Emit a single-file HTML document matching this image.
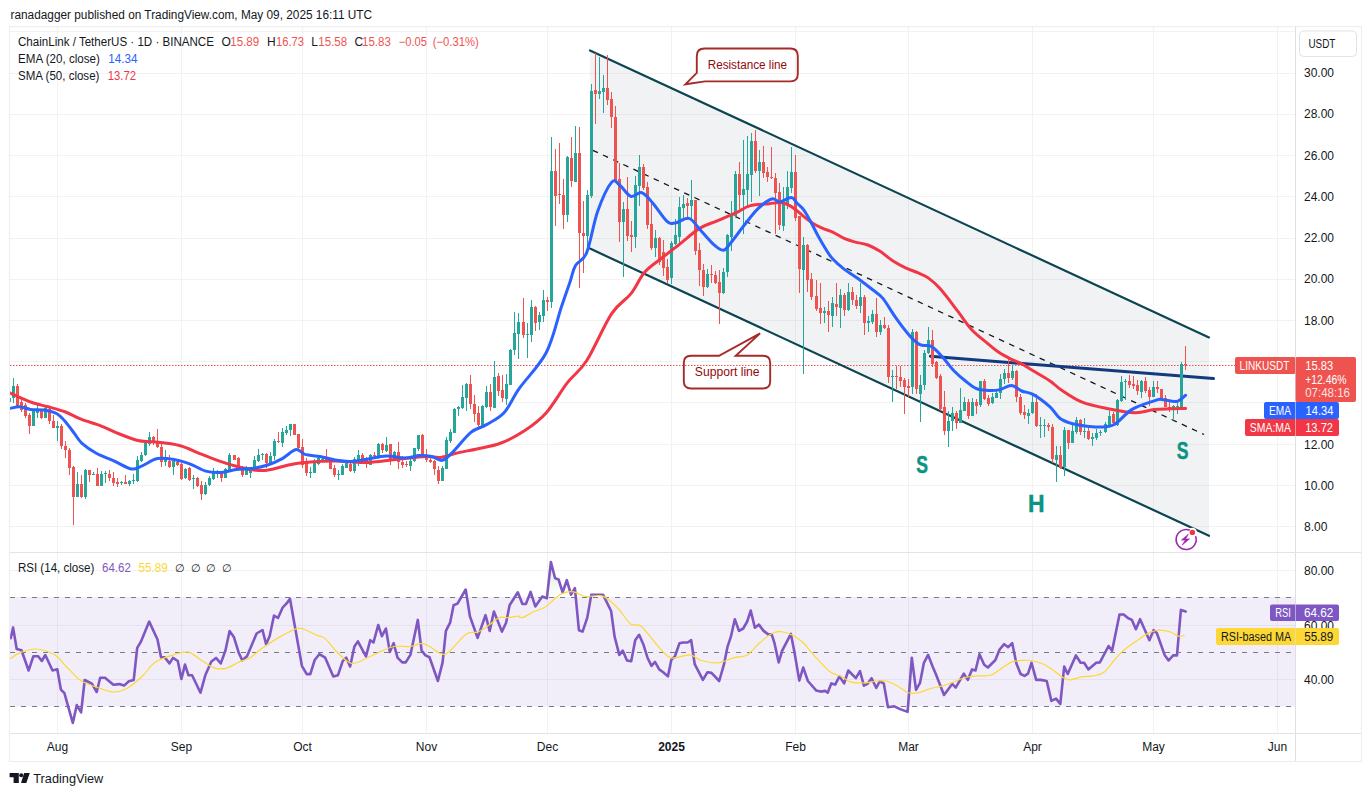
<!DOCTYPE html><html><head><meta charset="utf-8"><style>html,body{margin:0;padding:0;background:#fff;width:1371px;height:796px;overflow:hidden}</style></head><body><svg width="1371" height="796" viewBox="0 0 1371 796" style="display:block;font-family:'Liberation Sans',sans-serif"><rect width="1371" height="796" fill="#ffffff"/><g fill="#f2f2f2"><rect x="10" y="526" width="1285" height="1"/><rect x="10" y="485" width="1285" height="1"/><rect x="10" y="444" width="1285" height="1"/><rect x="10" y="402" width="1285" height="1"/><rect x="10" y="361" width="1285" height="1"/><rect x="10" y="320" width="1285" height="1"/><rect x="10" y="279" width="1285" height="1"/><rect x="10" y="238" width="1285" height="1"/><rect x="10" y="196" width="1285" height="1"/><rect x="10" y="155" width="1285" height="1"/><rect x="10" y="114" width="1285" height="1"/><rect x="10" y="73" width="1285" height="1"/><rect x="10" y="31" width="1285" height="1"/><rect x="10" y="570" width="1285" height="1"/><rect x="10" y="625" width="1285" height="1"/><rect x="10" y="679" width="1285" height="1"/><rect x="57" y="27" width="1" height="706"/><rect x="181" y="27" width="1" height="706"/><rect x="302" y="27" width="1" height="706"/><rect x="426" y="27" width="1" height="706"/><rect x="547" y="27" width="1" height="706"/><rect x="671" y="27" width="1" height="706"/><rect x="795" y="27" width="1" height="706"/><rect x="908" y="27" width="1" height="706"/><rect x="1032" y="27" width="1" height="706"/><rect x="1153" y="27" width="1" height="706"/><rect x="1277" y="27" width="1" height="706"/></g><rect x="10" y="597" width="1285" height="109.5" fill="#7e57c2" fill-opacity="0.1"/><line x1="10" y1="597.5" x2="1295" y2="597.5" stroke="#787b86" stroke-width="1" stroke-dasharray="5,6"/><line x1="10" y1="652.5" x2="1295" y2="652.5" stroke="#787b86" stroke-width="1" stroke-dasharray="5,6"/><line x1="10" y1="706.5" x2="1295" y2="706.5" stroke="#787b86" stroke-width="1" stroke-dasharray="5,6"/><polygon points="590,50.4 1209,337.4 1209,535.8 590,248.6" fill="#787b86" fill-opacity="0.1"/><line x1="10" y1="365.5" x2="1295" y2="365.5" stroke="#ef5350" stroke-width="1" stroke-dasharray="1.5,1.5"/><line x1="590" y1="50.4" x2="1209" y2="337.4" stroke="#0c4552" stroke-width="2.2" stroke-linecap="round"/><line x1="590" y1="248.6" x2="1209" y2="535.8" stroke="#0c4552" stroke-width="2.2" stroke-linecap="round"/><line x1="592.8" y1="150.3" x2="1204" y2="434.5" stroke="#131722" stroke-width="1.3" stroke-dasharray="5.6,5.6"/><line x1="930.4" y1="356.2" x2="1213.5" y2="378.6" stroke="#133a80" stroke-width="3" stroke-linecap="round"/><svg x="10" y="27" width="1285" height="525" viewBox="10 27 1285 525" overflow="hidden"><g fill="#26a69a"><rect x="9" y="397" width="1" height="6"/><rect x="8" y="398" width="3" height="4"/><rect x="13" y="378" width="1" height="25"/><rect x="12" y="386" width="3" height="12"/><rect x="33" y="410" width="1" height="16"/><rect x="32" y="411" width="3" height="15"/><rect x="37" y="405" width="1" height="13"/><rect x="36" y="410" width="3" height="3"/><rect x="45" y="405" width="1" height="13"/><rect x="44" y="408" width="3" height="10"/><rect x="57" y="421" width="1" height="20"/><rect x="56" y="426" width="3" height="2"/><rect x="77" y="472" width="1" height="25"/><rect x="76" y="484" width="3" height="13"/><rect x="85" y="469" width="1" height="30"/><rect x="84" y="470" width="3" height="27"/><rect x="93" y="472" width="1" height="3"/><rect x="92" y="474" width="3" height="1"/><rect x="101" y="471" width="1" height="15"/><rect x="100" y="474" width="3" height="12"/><rect x="105" y="471" width="1" height="12"/><rect x="104" y="473" width="3" height="1"/><rect x="121" y="481" width="1" height="4"/><rect x="120" y="482" width="3" height="1"/><rect x="129" y="480" width="1" height="6"/><rect x="128" y="481" width="3" height="3"/><rect x="133" y="474" width="1" height="10"/><rect x="132" y="480" width="3" height="1"/><rect x="137" y="456" width="1" height="26"/><rect x="136" y="460" width="3" height="21"/><rect x="141" y="452" width="1" height="10"/><rect x="140" y="455" width="3" height="6"/><rect x="145" y="440" width="1" height="16"/><rect x="144" y="443" width="3" height="12"/><rect x="149" y="432" width="1" height="14"/><rect x="148" y="437" width="3" height="7"/><rect x="165" y="450" width="1" height="16"/><rect x="164" y="458" width="3" height="4"/><rect x="173" y="460" width="1" height="15"/><rect x="172" y="461" width="3" height="6"/><rect x="185" y="468" width="1" height="11"/><rect x="184" y="469" width="3" height="9"/><rect x="193" y="475" width="1" height="14"/><rect x="192" y="478" width="3" height="1"/><rect x="205" y="482" width="1" height="13"/><rect x="204" y="485" width="3" height="9"/><rect x="209" y="476" width="1" height="10"/><rect x="208" y="478" width="3" height="7"/><rect x="213" y="468" width="1" height="12"/><rect x="212" y="472" width="3" height="7"/><rect x="217" y="470" width="1" height="8"/><rect x="216" y="473" width="3" height="1"/><rect x="225" y="468" width="1" height="10"/><rect x="224" y="469" width="3" height="9"/><rect x="229" y="453" width="1" height="19"/><rect x="228" y="455" width="3" height="16"/><rect x="246" y="466" width="1" height="9"/><rect x="245" y="470" width="3" height="5"/><rect x="250" y="467" width="1" height="11"/><rect x="249" y="467" width="3" height="6"/><rect x="254" y="456" width="1" height="12"/><rect x="253" y="460" width="3" height="8"/><rect x="258" y="449" width="1" height="13"/><rect x="257" y="455" width="3" height="6"/><rect x="262" y="453" width="1" height="7"/><rect x="261" y="454" width="3" height="1"/><rect x="270" y="452" width="1" height="13"/><rect x="269" y="456" width="3" height="7"/><rect x="274" y="439" width="1" height="21"/><rect x="273" y="441" width="3" height="15"/><rect x="282" y="428" width="1" height="19"/><rect x="281" y="432" width="3" height="11"/><rect x="286" y="426" width="1" height="9"/><rect x="285" y="430" width="3" height="3"/><rect x="290" y="424" width="1" height="12"/><rect x="289" y="424" width="3" height="6"/><rect x="310" y="467" width="1" height="11"/><rect x="309" y="472" width="3" height="1"/><rect x="314" y="459" width="1" height="14"/><rect x="313" y="463" width="3" height="10"/><rect x="318" y="457" width="1" height="8"/><rect x="317" y="458" width="3" height="6"/><rect x="322" y="456" width="1" height="5"/><rect x="321" y="459" width="3" height="1"/><rect x="338" y="470" width="1" height="10"/><rect x="337" y="474" width="3" height="1"/><rect x="342" y="464" width="1" height="11"/><rect x="341" y="466" width="3" height="9"/><rect x="346" y="461" width="1" height="7"/><rect x="345" y="463" width="3" height="5"/><rect x="354" y="457" width="1" height="16"/><rect x="353" y="459" width="3" height="12"/><rect x="358" y="450" width="1" height="16"/><rect x="357" y="455" width="3" height="5"/><rect x="370" y="454" width="1" height="11"/><rect x="369" y="455" width="3" height="10"/><rect x="378" y="443" width="1" height="16"/><rect x="377" y="444" width="3" height="13"/><rect x="386" y="437" width="1" height="15"/><rect x="385" y="445" width="3" height="6"/><rect x="394" y="451" width="1" height="9"/><rect x="393" y="452" width="3" height="7"/><rect x="410" y="459" width="1" height="12"/><rect x="409" y="461" width="3" height="5"/><rect x="414" y="448" width="1" height="14"/><rect x="413" y="448" width="3" height="13"/><rect x="418" y="435" width="1" height="16"/><rect x="417" y="435" width="3" height="14"/><rect x="442" y="466" width="1" height="15"/><rect x="441" y="468" width="3" height="13"/><rect x="446" y="437" width="1" height="32"/><rect x="445" y="440" width="3" height="29"/><rect x="450" y="429" width="1" height="14"/><rect x="449" y="432" width="3" height="9"/><rect x="454" y="408" width="1" height="25"/><rect x="453" y="409" width="3" height="24"/><rect x="458" y="406" width="1" height="10"/><rect x="457" y="407" width="3" height="2"/><rect x="462" y="385" width="1" height="24"/><rect x="461" y="397" width="3" height="11"/><rect x="466" y="383" width="1" height="28"/><rect x="465" y="384" width="3" height="14"/><rect x="482" y="405" width="1" height="23"/><rect x="481" y="406" width="3" height="19"/><rect x="486" y="386" width="1" height="22"/><rect x="485" y="392" width="3" height="15"/><rect x="494" y="361" width="1" height="47"/><rect x="493" y="377" width="3" height="31"/><rect x="506" y="374" width="1" height="31"/><rect x="505" y="384" width="3" height="15"/><rect x="510" y="349" width="1" height="36"/><rect x="509" y="350" width="3" height="35"/><rect x="514" y="312" width="1" height="43"/><rect x="513" y="333" width="3" height="17"/><rect x="518" y="313" width="1" height="46"/><rect x="517" y="322" width="3" height="12"/><rect x="527" y="323" width="1" height="35"/><rect x="526" y="334" width="3" height="1"/><rect x="531" y="300" width="1" height="42"/><rect x="530" y="307" width="3" height="28"/><rect x="539" y="312" width="1" height="18"/><rect x="538" y="315" width="3" height="7"/><rect x="543" y="290" width="1" height="32"/><rect x="542" y="300" width="3" height="16"/><rect x="551" y="137" width="1" height="171"/><rect x="550" y="171" width="3" height="131"/><rect x="567" y="156" width="1" height="66"/><rect x="566" y="157" width="3" height="58"/><rect x="575" y="126" width="1" height="56"/><rect x="574" y="153" width="3" height="29"/><rect x="587" y="190" width="1" height="63"/><rect x="586" y="195" width="3" height="41"/><rect x="591" y="84" width="1" height="114"/><rect x="590" y="91" width="3" height="105"/><rect x="599" y="57" width="1" height="42"/><rect x="598" y="91" width="3" height="3"/><rect x="603" y="75" width="1" height="38"/><rect x="602" y="88" width="3" height="4"/><rect x="623" y="202" width="1" height="75"/><rect x="622" y="209" width="3" height="13"/><rect x="635" y="176" width="1" height="72"/><rect x="634" y="185" width="3" height="52"/><rect x="639" y="155" width="1" height="51"/><rect x="638" y="167" width="3" height="19"/><rect x="655" y="230" width="1" height="27"/><rect x="654" y="238" width="3" height="10"/><rect x="671" y="241" width="1" height="43"/><rect x="670" y="243" width="3" height="35"/><rect x="675" y="219" width="1" height="26"/><rect x="674" y="235" width="3" height="9"/><rect x="679" y="197" width="1" height="48"/><rect x="678" y="207" width="3" height="30"/><rect x="683" y="195" width="1" height="26"/><rect x="682" y="204" width="3" height="4"/><rect x="691" y="180" width="1" height="39"/><rect x="690" y="200" width="3" height="6"/><rect x="707" y="269" width="1" height="19"/><rect x="706" y="274" width="3" height="13"/><rect x="723" y="268" width="1" height="26"/><rect x="722" y="272" width="3" height="21"/><rect x="727" y="234" width="1" height="43"/><rect x="726" y="235" width="3" height="37"/><rect x="731" y="201" width="1" height="50"/><rect x="730" y="216" width="3" height="21"/><rect x="735" y="171" width="1" height="46"/><rect x="734" y="174" width="3" height="42"/><rect x="743" y="140" width="1" height="94"/><rect x="742" y="189" width="3" height="6"/><rect x="747" y="136" width="1" height="72"/><rect x="746" y="174" width="3" height="16"/><rect x="751" y="133" width="1" height="69"/><rect x="750" y="141" width="3" height="34"/><rect x="759" y="150" width="1" height="46"/><rect x="758" y="162" width="3" height="9"/><rect x="783" y="187" width="1" height="44"/><rect x="782" y="202" width="3" height="24"/><rect x="787" y="171" width="1" height="38"/><rect x="786" y="187" width="3" height="17"/><rect x="791" y="147" width="1" height="46"/><rect x="790" y="172" width="3" height="16"/><rect x="803" y="237" width="1" height="137"/><rect x="802" y="245" width="3" height="25"/><rect x="824" y="307" width="1" height="16"/><rect x="823" y="311" width="3" height="2"/><rect x="832" y="297" width="1" height="30"/><rect x="831" y="303" width="3" height="13"/><rect x="840" y="289" width="1" height="39"/><rect x="839" y="295" width="3" height="13"/><rect x="848" y="283" width="1" height="28"/><rect x="847" y="292" width="3" height="18"/><rect x="860" y="283" width="1" height="30"/><rect x="859" y="297" width="3" height="9"/><rect x="868" y="316" width="1" height="16"/><rect x="867" y="321" width="3" height="2"/><rect x="872" y="310" width="1" height="14"/><rect x="871" y="314" width="3" height="8"/><rect x="880" y="320" width="1" height="15"/><rect x="879" y="325" width="3" height="7"/><rect x="892" y="370" width="1" height="32"/><rect x="891" y="376" width="3" height="1"/><rect x="912" y="329" width="1" height="65"/><rect x="911" y="332" width="3" height="55"/><rect x="920" y="375" width="1" height="47"/><rect x="919" y="385" width="3" height="9"/><rect x="924" y="350" width="1" height="40"/><rect x="923" y="353" width="3" height="32"/><rect x="928" y="327" width="1" height="27"/><rect x="927" y="340" width="3" height="13"/><rect x="948" y="411" width="1" height="36"/><rect x="947" y="421" width="3" height="10"/><rect x="952" y="407" width="1" height="24"/><rect x="951" y="413" width="3" height="8"/><rect x="960" y="388" width="1" height="35"/><rect x="959" y="410" width="3" height="13"/><rect x="964" y="397" width="1" height="14"/><rect x="963" y="402" width="3" height="9"/><rect x="972" y="398" width="1" height="18"/><rect x="971" y="402" width="3" height="14"/><rect x="980" y="381" width="1" height="26"/><rect x="979" y="381" width="3" height="24"/><rect x="992" y="393" width="1" height="11"/><rect x="991" y="397" width="3" height="6"/><rect x="996" y="390" width="1" height="8"/><rect x="995" y="393" width="3" height="5"/><rect x="1000" y="374" width="1" height="25"/><rect x="999" y="379" width="3" height="14"/><rect x="1004" y="369" width="1" height="15"/><rect x="1003" y="373" width="3" height="6"/><rect x="1012" y="365" width="1" height="15"/><rect x="1011" y="371" width="3" height="7"/><rect x="1028" y="409" width="1" height="15"/><rect x="1027" y="413" width="3" height="3"/><rect x="1032" y="395" width="1" height="19"/><rect x="1031" y="402" width="3" height="11"/><rect x="1040" y="417" width="1" height="21"/><rect x="1039" y="425" width="3" height="1"/><rect x="1044" y="419" width="1" height="18"/><rect x="1043" y="425" width="3" height="1"/><rect x="1056" y="446" width="1" height="36"/><rect x="1055" y="455" width="3" height="5"/><rect x="1064" y="427" width="1" height="49"/><rect x="1063" y="430" width="3" height="37"/><rect x="1072" y="425" width="1" height="18"/><rect x="1071" y="431" width="3" height="12"/><rect x="1076" y="417" width="1" height="17"/><rect x="1075" y="420" width="3" height="12"/><rect x="1084" y="418" width="1" height="20"/><rect x="1083" y="431" width="3" height="1"/><rect x="1092" y="433" width="1" height="13"/><rect x="1091" y="437" width="3" height="2"/><rect x="1096" y="429" width="1" height="11"/><rect x="1095" y="433" width="3" height="5"/><rect x="1100" y="430" width="1" height="6"/><rect x="1099" y="432" width="3" height="1"/><rect x="1105" y="422" width="1" height="11"/><rect x="1104" y="424" width="3" height="8"/><rect x="1109" y="411" width="1" height="15"/><rect x="1108" y="416" width="3" height="10"/><rect x="1117" y="399" width="1" height="27"/><rect x="1116" y="400" width="3" height="25"/><rect x="1121" y="376" width="1" height="26"/><rect x="1120" y="382" width="3" height="19"/><rect x="1125" y="379" width="1" height="21"/><rect x="1124" y="381" width="3" height="1"/><rect x="1141" y="380" width="1" height="18"/><rect x="1140" y="381" width="3" height="11"/><rect x="1153" y="381" width="1" height="16"/><rect x="1152" y="387" width="3" height="10"/><rect x="1173" y="405" width="1" height="14"/><rect x="1172" y="406" width="3" height="4"/><rect x="1177" y="401" width="1" height="13"/><rect x="1176" y="406" width="3" height="1"/><rect x="1181" y="362" width="1" height="46"/><rect x="1180" y="364" width="3" height="44"/></g><g fill="#ef5350"><rect x="17" y="384" width="1" height="23"/><rect x="16" y="386" width="3" height="20"/><rect x="21" y="398" width="1" height="14"/><rect x="20" y="402" width="3" height="8"/><rect x="25" y="403" width="1" height="15"/><rect x="24" y="405" width="3" height="11"/><rect x="29" y="413" width="1" height="21"/><rect x="28" y="415" width="3" height="11"/><rect x="41" y="409" width="1" height="10"/><rect x="40" y="410" width="3" height="8"/><rect x="49" y="407" width="1" height="17"/><rect x="48" y="409" width="3" height="12"/><rect x="53" y="415" width="1" height="13"/><rect x="52" y="421" width="3" height="7"/><rect x="61" y="424" width="1" height="25"/><rect x="60" y="426" width="3" height="20"/><rect x="65" y="441" width="1" height="17"/><rect x="64" y="446" width="3" height="4"/><rect x="69" y="448" width="1" height="27"/><rect x="68" y="450" width="3" height="18"/><rect x="73" y="466" width="1" height="59"/><rect x="72" y="467" width="3" height="30"/><rect x="81" y="475" width="1" height="23"/><rect x="80" y="484" width="3" height="13"/><rect x="89" y="470" width="1" height="12"/><rect x="88" y="470" width="3" height="5"/><rect x="97" y="468" width="1" height="18"/><rect x="96" y="474" width="3" height="12"/><rect x="109" y="470" width="1" height="11"/><rect x="108" y="474" width="3" height="4"/><rect x="113" y="472" width="1" height="14"/><rect x="112" y="478" width="3" height="5"/><rect x="117" y="478" width="1" height="9"/><rect x="116" y="482" width="3" height="2"/><rect x="125" y="475" width="1" height="9"/><rect x="124" y="482" width="3" height="2"/><rect x="153" y="436" width="1" height="9"/><rect x="152" y="437" width="3" height="6"/><rect x="157" y="429" width="1" height="19"/><rect x="156" y="441" width="3" height="6"/><rect x="161" y="444" width="1" height="23"/><rect x="160" y="447" width="3" height="15"/><rect x="169" y="455" width="1" height="13"/><rect x="168" y="461" width="3" height="6"/><rect x="177" y="460" width="1" height="6"/><rect x="176" y="462" width="3" height="3"/><rect x="181" y="463" width="1" height="17"/><rect x="180" y="464" width="3" height="15"/><rect x="189" y="467" width="1" height="14"/><rect x="188" y="468" width="3" height="12"/><rect x="197" y="477" width="1" height="10"/><rect x="196" y="478" width="3" height="8"/><rect x="201" y="481" width="1" height="19"/><rect x="200" y="485" width="3" height="9"/><rect x="221" y="473" width="1" height="9"/><rect x="220" y="473" width="3" height="5"/><rect x="234" y="455" width="1" height="5"/><rect x="233" y="455" width="3" height="5"/><rect x="238" y="457" width="1" height="12"/><rect x="237" y="458" width="3" height="10"/><rect x="242" y="466" width="1" height="11"/><rect x="241" y="468" width="3" height="7"/><rect x="266" y="453" width="1" height="15"/><rect x="265" y="454" width="3" height="9"/><rect x="278" y="432" width="1" height="11"/><rect x="277" y="441" width="3" height="1"/><rect x="294" y="424" width="1" height="11"/><rect x="293" y="424" width="3" height="11"/><rect x="298" y="434" width="1" height="15"/><rect x="297" y="434" width="3" height="14"/><rect x="302" y="439" width="1" height="29"/><rect x="301" y="447" width="3" height="18"/><rect x="306" y="458" width="1" height="18"/><rect x="305" y="463" width="3" height="10"/><rect x="326" y="449" width="1" height="13"/><rect x="325" y="459" width="3" height="2"/><rect x="330" y="459" width="1" height="10"/><rect x="329" y="460" width="3" height="9"/><rect x="334" y="465" width="1" height="12"/><rect x="333" y="468" width="3" height="7"/><rect x="350" y="463" width="1" height="9"/><rect x="349" y="464" width="3" height="7"/><rect x="362" y="453" width="1" height="10"/><rect x="361" y="455" width="3" height="7"/><rect x="366" y="457" width="1" height="11"/><rect x="365" y="459" width="3" height="5"/><rect x="374" y="452" width="1" height="7"/><rect x="373" y="455" width="3" height="1"/><rect x="382" y="443" width="1" height="10"/><rect x="381" y="444" width="3" height="6"/><rect x="390" y="444" width="1" height="21"/><rect x="389" y="444" width="3" height="15"/><rect x="398" y="442" width="1" height="27"/><rect x="397" y="452" width="3" height="10"/><rect x="402" y="456" width="1" height="12"/><rect x="401" y="462" width="3" height="3"/><rect x="406" y="461" width="1" height="6"/><rect x="405" y="464" width="3" height="1"/><rect x="422" y="434" width="1" height="24"/><rect x="421" y="435" width="3" height="23"/><rect x="426" y="449" width="1" height="13"/><rect x="425" y="456" width="3" height="4"/><rect x="430" y="456" width="1" height="7"/><rect x="429" y="460" width="3" height="2"/><rect x="434" y="460" width="1" height="15"/><rect x="433" y="461" width="3" height="8"/><rect x="438" y="466" width="1" height="18"/><rect x="437" y="470" width="3" height="11"/><rect x="470" y="375" width="1" height="34"/><rect x="469" y="384" width="3" height="20"/><rect x="474" y="395" width="1" height="27"/><rect x="473" y="404" width="3" height="10"/><rect x="478" y="406" width="1" height="21"/><rect x="477" y="413" width="3" height="12"/><rect x="490" y="384" width="1" height="27"/><rect x="489" y="392" width="3" height="15"/><rect x="498" y="373" width="1" height="23"/><rect x="497" y="376" width="3" height="15"/><rect x="502" y="375" width="1" height="27"/><rect x="501" y="390" width="3" height="8"/><rect x="523" y="298" width="1" height="40"/><rect x="522" y="322" width="3" height="13"/><rect x="535" y="306" width="1" height="25"/><rect x="534" y="307" width="3" height="16"/><rect x="547" y="297" width="1" height="14"/><rect x="546" y="300" width="3" height="2"/><rect x="555" y="149" width="1" height="77"/><rect x="554" y="171" width="3" height="25"/><rect x="559" y="143" width="1" height="61"/><rect x="558" y="194" width="3" height="1"/><rect x="563" y="179" width="1" height="50"/><rect x="562" y="195" width="3" height="20"/><rect x="571" y="137" width="1" height="50"/><rect x="570" y="158" width="3" height="23"/><rect x="579" y="127" width="1" height="161"/><rect x="578" y="153" width="3" height="80"/><rect x="583" y="201" width="1" height="72"/><rect x="582" y="233" width="3" height="3"/><rect x="595" y="53" width="1" height="71"/><rect x="594" y="90" width="3" height="4"/><rect x="607" y="55" width="1" height="50"/><rect x="606" y="88" width="3" height="12"/><rect x="611" y="92" width="1" height="36"/><rect x="610" y="99" width="3" height="18"/><rect x="615" y="106" width="1" height="74"/><rect x="614" y="117" width="3" height="63"/><rect x="619" y="163" width="1" height="79"/><rect x="618" y="179" width="3" height="43"/><rect x="627" y="177" width="1" height="64"/><rect x="626" y="209" width="3" height="27"/><rect x="631" y="221" width="1" height="31"/><rect x="630" y="235" width="3" height="2"/><rect x="643" y="164" width="1" height="26"/><rect x="642" y="167" width="3" height="21"/><rect x="647" y="182" width="1" height="47"/><rect x="646" y="187" width="3" height="38"/><rect x="651" y="203" width="1" height="47"/><rect x="650" y="224" width="3" height="24"/><rect x="659" y="237" width="1" height="28"/><rect x="658" y="238" width="3" height="24"/><rect x="663" y="240" width="1" height="36"/><rect x="662" y="252" width="3" height="16"/><rect x="667" y="259" width="1" height="24"/><rect x="666" y="267" width="3" height="13"/><rect x="687" y="198" width="1" height="21"/><rect x="686" y="203" width="3" height="3"/><rect x="695" y="200" width="1" height="55"/><rect x="694" y="200" width="3" height="51"/><rect x="699" y="243" width="1" height="43"/><rect x="698" y="250" width="3" height="20"/><rect x="703" y="264" width="1" height="32"/><rect x="702" y="270" width="3" height="17"/><rect x="711" y="265" width="1" height="18"/><rect x="710" y="274" width="3" height="1"/><rect x="715" y="271" width="1" height="13"/><rect x="714" y="275" width="3" height="8"/><rect x="719" y="270" width="1" height="54"/><rect x="718" y="282" width="3" height="11"/><rect x="739" y="162" width="1" height="47"/><rect x="738" y="174" width="3" height="21"/><rect x="755" y="130" width="1" height="43"/><rect x="754" y="141" width="3" height="30"/><rect x="763" y="146" width="1" height="32"/><rect x="762" y="162" width="3" height="11"/><rect x="767" y="167" width="1" height="15"/><rect x="766" y="172" width="3" height="5"/><rect x="771" y="147" width="1" height="32"/><rect x="770" y="177" width="3" height="1"/><rect x="775" y="173" width="1" height="61"/><rect x="774" y="178" width="3" height="15"/><rect x="779" y="183" width="1" height="47"/><rect x="778" y="192" width="3" height="33"/><rect x="795" y="155" width="1" height="66"/><rect x="794" y="172" width="3" height="46"/><rect x="799" y="216" width="1" height="77"/><rect x="798" y="216" width="3" height="53"/><rect x="807" y="244" width="1" height="48"/><rect x="806" y="245" width="3" height="35"/><rect x="811" y="273" width="1" height="27"/><rect x="810" y="279" width="3" height="18"/><rect x="816" y="280" width="1" height="31"/><rect x="815" y="296" width="3" height="13"/><rect x="820" y="283" width="1" height="41"/><rect x="819" y="308" width="3" height="5"/><rect x="828" y="301" width="1" height="31"/><rect x="827" y="311" width="3" height="4"/><rect x="836" y="283" width="1" height="33"/><rect x="835" y="304" width="3" height="3"/><rect x="844" y="293" width="1" height="23"/><rect x="843" y="295" width="3" height="15"/><rect x="852" y="287" width="1" height="18"/><rect x="851" y="292" width="3" height="8"/><rect x="856" y="295" width="1" height="14"/><rect x="855" y="300" width="3" height="6"/><rect x="864" y="295" width="1" height="40"/><rect x="863" y="297" width="3" height="26"/><rect x="876" y="298" width="1" height="39"/><rect x="875" y="314" width="3" height="18"/><rect x="884" y="317" width="1" height="12"/><rect x="883" y="325" width="3" height="3"/><rect x="888" y="325" width="1" height="58"/><rect x="887" y="328" width="3" height="49"/><rect x="896" y="366" width="1" height="23"/><rect x="895" y="376" width="3" height="1"/><rect x="900" y="366" width="1" height="21"/><rect x="899" y="377" width="3" height="4"/><rect x="904" y="378" width="1" height="36"/><rect x="903" y="380" width="3" height="7"/><rect x="908" y="379" width="1" height="19"/><rect x="907" y="386" width="3" height="2"/><rect x="916" y="331" width="1" height="63"/><rect x="915" y="332" width="3" height="57"/><rect x="932" y="330" width="1" height="37"/><rect x="931" y="340" width="3" height="24"/><rect x="936" y="361" width="1" height="18"/><rect x="935" y="362" width="3" height="16"/><rect x="940" y="374" width="1" height="37"/><rect x="939" y="376" width="3" height="33"/><rect x="944" y="391" width="1" height="44"/><rect x="943" y="407" width="3" height="24"/><rect x="956" y="411" width="1" height="18"/><rect x="955" y="413" width="3" height="10"/><rect x="968" y="399" width="1" height="20"/><rect x="967" y="402" width="3" height="14"/><rect x="976" y="399" width="1" height="15"/><rect x="975" y="402" width="3" height="4"/><rect x="984" y="379" width="1" height="21"/><rect x="983" y="381" width="3" height="18"/><rect x="988" y="395" width="1" height="11"/><rect x="987" y="398" width="3" height="6"/><rect x="1008" y="359" width="1" height="24"/><rect x="1007" y="373" width="3" height="5"/><rect x="1016" y="370" width="1" height="32"/><rect x="1015" y="371" width="3" height="26"/><rect x="1020" y="394" width="1" height="21"/><rect x="1019" y="397" width="3" height="16"/><rect x="1024" y="405" width="1" height="14"/><rect x="1023" y="412" width="3" height="3"/><rect x="1036" y="394" width="1" height="33"/><rect x="1035" y="402" width="3" height="24"/><rect x="1048" y="423" width="1" height="8"/><rect x="1047" y="425" width="3" height="2"/><rect x="1052" y="424" width="1" height="39"/><rect x="1051" y="427" width="3" height="32"/><rect x="1060" y="446" width="1" height="23"/><rect x="1059" y="455" width="3" height="13"/><rect x="1068" y="430" width="1" height="19"/><rect x="1067" y="430" width="3" height="13"/><rect x="1080" y="419" width="1" height="16"/><rect x="1079" y="420" width="3" height="12"/><rect x="1088" y="428" width="1" height="12"/><rect x="1087" y="431" width="3" height="8"/><rect x="1113" y="412" width="1" height="12"/><rect x="1112" y="414" width="3" height="9"/><rect x="1129" y="375" width="1" height="13"/><rect x="1128" y="381" width="3" height="4"/><rect x="1133" y="376" width="1" height="13"/><rect x="1132" y="384" width="3" height="2"/><rect x="1137" y="380" width="1" height="15"/><rect x="1136" y="385" width="3" height="6"/><rect x="1145" y="377" width="1" height="16"/><rect x="1144" y="381" width="3" height="10"/><rect x="1149" y="387" width="1" height="19"/><rect x="1148" y="390" width="3" height="7"/><rect x="1157" y="381" width="1" height="12"/><rect x="1156" y="387" width="3" height="2"/><rect x="1161" y="389" width="1" height="10"/><rect x="1160" y="389" width="3" height="10"/><rect x="1165" y="395" width="1" height="12"/><rect x="1164" y="398" width="3" height="9"/><rect x="1169" y="399" width="1" height="13"/><rect x="1168" y="407" width="3" height="3"/><rect x="1185" y="346" width="1" height="24"/><rect x="1184" y="364" width="3" height="1"/></g><path d="M10.5,393.0 C12.4,393.9 18.2,396.8 21.9,398.4 C25.6,400.0 28.4,401.4 32.8,402.8 C37.2,404.2 42.6,405.3 48.1,406.8 C53.6,408.3 60.1,409.9 65.6,412.0 C71.1,414.1 75.2,416.9 81.0,419.2 C86.8,421.5 94.5,423.4 100.7,425.8 C106.9,428.2 112.0,431.1 118.2,433.5 C124.4,435.9 132.1,439.1 137.9,440.5 C143.7,441.9 146.3,441.0 153.2,441.8 C160.1,442.6 171.4,443.4 179.4,445.5 C187.4,447.6 194.7,451.6 201.3,454.2 C207.9,456.8 213.0,458.8 218.8,460.8 C224.6,462.8 230.8,464.8 236.3,466.3 C241.8,467.8 246.5,469.0 251.6,469.6 C256.7,470.2 260.6,471.0 267.0,470.2 C273.4,469.4 283.6,466.0 290.0,464.7 C296.4,463.4 297.6,463.1 305.1,462.5 C312.6,461.9 325.1,461.0 335.2,461.0 C345.2,461.0 355.3,462.8 365.4,462.5 C375.4,462.2 385.4,460.5 395.5,459.5 C405.6,458.5 418.2,456.9 425.7,456.5 C433.2,456.1 435.2,458.0 440.7,457.4 C446.2,456.8 452.8,454.0 458.8,452.6 C464.8,451.2 469.9,450.6 476.9,449.0 C483.9,447.4 492.9,446.1 501.0,443.0 C509.1,439.9 517.7,435.3 525.2,430.3 C532.8,425.3 539.3,420.7 546.3,412.8 C553.3,404.9 560.7,391.4 567.4,382.7 C574.1,374.0 579.2,372.3 586.6,360.8 C594.0,349.3 604.1,325.0 611.5,313.8 C618.9,302.6 625.3,300.8 630.8,293.9 C636.3,287.0 639.5,278.2 644.6,272.3 C649.7,266.4 655.2,263.3 661.2,258.5 C667.2,253.7 674.2,248.4 680.6,243.3 C687.0,238.2 693.9,231.8 699.9,228.1 C705.9,224.4 710.5,223.6 716.5,221.1 C722.5,218.6 730.4,215.4 735.9,212.9 C741.4,210.4 744.2,207.4 749.7,205.9 C755.2,204.4 764.1,204.2 769.1,203.7 C774.1,203.1 776.7,202.4 780.0,202.6 C783.3,202.8 786.1,203.8 788.8,205.1 C791.5,206.3 793.6,208.0 796.3,210.1 C799.0,212.2 802.2,215.3 805.1,217.6 C808.0,219.9 811.0,222.1 813.9,223.9 C816.8,225.7 819.6,226.9 822.7,228.3 C825.8,229.7 829.1,230.4 832.7,232.1 C836.3,233.8 840.3,236.7 844.1,238.4 C847.9,240.1 851.4,241.0 855.4,242.1 C859.4,243.2 863.7,243.4 867.9,245.0 C872.1,246.6 876.3,248.9 880.5,251.6 C884.7,254.3 888.9,258.3 893.1,261.0 C897.3,263.7 901.4,265.9 905.6,267.9 C909.8,269.9 914.4,271.2 918.2,272.9 C922.0,274.6 924.6,275.3 928.2,277.9 C931.8,280.5 935.0,283.0 940.0,288.6 C945.0,294.2 952.6,304.5 957.9,311.4 C963.2,318.3 967.0,324.6 972.0,330.0 C977.0,335.4 983.3,339.8 987.8,343.6 C992.3,347.4 995.3,350.1 999.1,352.6 C1002.9,355.1 1006.6,356.9 1010.4,358.8 C1014.2,360.7 1017.9,361.9 1021.7,363.9 C1025.5,365.9 1028.3,367.9 1033.0,370.7 C1037.7,373.5 1045.3,377.7 1050.0,380.9 C1054.7,384.1 1055.7,386.2 1061.1,389.8 C1066.5,393.4 1074.2,399.0 1082.2,402.2 C1090.2,405.4 1100.5,407.2 1109.4,409.0 C1118.3,410.8 1128.0,412.6 1135.4,412.7 C1142.8,412.8 1148.2,410.2 1154.0,409.6 C1159.8,409.0 1164.7,409.0 1170.0,408.8 C1175.3,408.6 1183.0,408.5 1185.6,408.4" fill="none" stroke="#f23645" stroke-width="3" stroke-linecap="round"/><path d="M10.5,408.3 C12.0,408.1 16.3,406.6 19.7,406.8 C23.1,407.0 26.6,408.9 30.6,409.4 C34.6,409.9 39.4,409.3 43.8,410.0 C48.2,410.7 53.3,411.8 56.9,413.8 C60.5,415.8 62.7,418.7 65.6,422.0 C68.5,425.3 71.7,429.9 74.4,433.5 C77.1,437.1 78.3,440.0 82.0,443.3 C85.7,446.6 91.0,450.3 96.3,453.2 C101.6,456.1 108.0,458.2 113.8,460.8 C119.6,463.4 126.6,468.1 131.3,468.9 C136.0,469.7 137.8,467.5 142.2,465.8 C146.6,464.1 152.0,459.6 157.5,458.6 C163.0,457.6 169.5,458.8 175.0,459.7 C180.5,460.6 185.3,462.2 190.4,464.1 C195.5,466.0 200.6,469.7 205.7,471.1 C210.8,472.5 215.9,472.6 221.0,472.4 C226.1,472.1 231.2,470.2 236.3,469.6 C241.4,469.0 246.5,469.2 251.6,468.5 C256.7,467.8 261.9,466.8 267.0,465.2 C272.1,463.6 277.5,461.2 282.3,458.6 C287.1,456.0 292.2,450.3 296.0,449.6 C299.8,448.9 301.1,453.2 305.1,454.4 C309.1,455.5 315.1,455.6 320.1,456.5 C325.1,457.4 330.2,459.2 335.2,460.1 C340.2,461.0 345.3,461.7 350.3,461.6 C355.3,461.5 359.4,460.4 365.4,459.5 C371.4,458.6 380.0,456.1 386.5,455.9 C393.0,455.6 399.1,458.1 404.6,458.0 C410.1,457.9 415.1,455.9 419.6,455.6 C424.1,455.4 427.9,455.7 431.7,456.5 C435.5,457.3 438.7,461.1 442.2,460.4 C445.7,459.6 448.0,456.7 452.8,452.0 C457.6,447.3 465.4,436.9 470.9,432.4 C476.4,427.9 480.5,428.2 486.0,424.9 C491.5,421.6 498.5,418.8 504.0,412.8 C509.5,406.8 512.1,398.8 519.1,388.7 C526.1,378.6 539.3,366.1 546.3,352.5 C553.3,338.9 557.3,319.1 561.3,307.3 C565.2,295.6 567.6,289.0 570.0,282.0 C572.4,275.0 572.7,270.2 575.5,265.4 C578.3,260.5 582.9,261.9 586.6,252.9 C590.3,243.9 593.5,223.2 597.6,211.5 C601.8,199.8 607.8,186.8 611.5,182.4 C615.2,178.0 616.6,182.9 619.8,185.2 C623.0,187.5 627.1,195.1 630.8,196.3 C634.5,197.6 638.2,191.5 641.9,192.7 C645.6,193.8 648.8,198.5 652.9,203.2 C657.0,207.9 663.1,217.8 666.8,221.1 C670.5,224.4 671.4,223.5 675.1,223.1 C678.8,222.7 684.8,217.3 688.9,218.4 C693.0,219.5 695.8,225.0 699.9,229.4 C704.0,233.8 709.9,241.1 713.8,244.6 C717.7,248.1 720.6,250.4 723.4,250.2 C726.2,250.0 726.9,247.5 730.4,243.3 C733.9,239.2 739.6,231.1 744.2,225.3 C748.8,219.5 753.4,213.1 758.0,208.7 C762.6,204.3 768.1,200.1 771.8,199.0 C775.5,197.9 776.8,202.2 780.0,201.9 C783.2,201.7 788.4,197.2 791.3,197.5 C794.2,197.8 795.5,201.7 797.6,203.8 C799.7,205.9 801.8,207.3 803.9,210.1 C806.0,212.9 807.9,216.6 810.2,220.8 C812.5,225.0 815.0,230.3 817.7,235.2 C820.4,240.1 824.0,246.3 826.5,250.3 C829.0,254.3 829.9,256.0 832.8,259.1 C835.7,262.2 839.9,265.9 844.1,269.1 C848.3,272.3 853.1,275.0 857.9,278.5 C862.7,282.0 868.8,286.7 873.0,290.0 C877.2,293.3 879.1,293.8 882.9,298.4 C886.7,303.0 891.5,311.8 895.9,317.9 C900.2,324.0 905.0,330.4 909.0,334.9 C913.0,339.4 916.3,342.8 920.0,344.7 C923.7,346.6 927.5,344.3 931.3,346.4 C935.1,348.5 938.8,353.1 942.6,357.1 C946.4,361.2 950.1,366.8 953.9,370.7 C957.7,374.6 961.4,377.8 965.2,380.8 C969.0,383.8 972.7,387.1 976.5,388.7 C980.3,390.3 984.0,390.2 987.8,390.4 C991.6,390.6 995.1,390.7 999.1,389.9 C1003.1,389.1 1007.8,385.2 1011.6,385.4 C1015.4,385.6 1018.1,389.5 1021.7,391.0 C1025.3,392.5 1028.3,391.8 1033.0,394.4 C1037.7,397.0 1045.5,402.9 1050.0,406.9 C1054.5,410.9 1056.3,415.6 1059.8,418.3 C1063.3,421.0 1066.8,422.0 1071.0,423.3 C1075.2,424.6 1080.2,425.4 1085.0,426.0 C1089.8,426.6 1094.6,427.2 1099.5,427.0 C1104.4,426.8 1108.9,427.4 1114.3,424.5 C1119.7,421.6 1125.1,413.5 1131.7,409.6 C1138.3,405.7 1149.0,402.6 1154.0,400.9 C1159.0,399.2 1157.8,399.3 1161.5,399.4 C1165.2,399.5 1172.3,402.2 1176.3,401.5 C1180.3,400.8 1184.0,396.3 1185.6,395.3" fill="none" stroke="#2962ff" stroke-width="3" stroke-linecap="round"/></svg><path d="M704.5,48.5 H790.5 Q797.8,48.5 797.8,56 V74 Q797.8,81.4 790.5,81.4 H705 L685.3,84.3 L696.8,72.8 V56 Q696.8,48.5 704.5,48.5 Z" fill="#ffffff" fill-opacity="0" stroke="#a52a2a" stroke-width="1.9"/><text x="707.7" y="69" font-size="12" fill="#8f0a0a" textLength="79.3" lengthAdjust="spacingAndGlyphs">Resistance line</text><path d="M691,355.8 H719 L760.1,333.4 L735.7,355.8 H763 Q770.2,355.8 770.2,363 V381.3 Q770.2,388.5 763,388.5 H691 Q683.8,388.5 683.8,381.3 V363 Q683.8,355.8 691,355.8 Z" fill="none" stroke="#a52a2a" stroke-width="1.9"/><text x="694.8" y="375.8" font-size="12" fill="#8f0a0a" textLength="64.8" lengthAdjust="spacingAndGlyphs">Support line</text><text x="916.3" y="473.3" font-size="23" font-weight="bold" fill="#0c9382" stroke="#0c9382" stroke-width="0.5" textLength="11.7" lengthAdjust="spacingAndGlyphs">S</text><text x="1036.4" y="512.1" font-size="23" font-weight="bold" fill="#0c9382" stroke="#0c9382" stroke-width="0.4" text-anchor="middle">H</text><text x="1176.8" y="459" font-size="23" font-weight="bold" fill="#0c9382" stroke="#0c9382" stroke-width="0.5" textLength="11.7" lengthAdjust="spacingAndGlyphs">S</text><circle cx="1192.4" cy="532.4" r="4.6" fill="#ffffff"/><g fill="none" stroke="#9c27b0" stroke-width="1.6"><path d="M1189.8,530.2 A10,10 0 1 0 1195.6,536.2"/></g><path d="M1188.3,534.3 L1181.5,540.1 H1185.4 L1182.2,545.0 L1189.5,538.9 H1185.6 Z" fill="#9c27b0" stroke="#9c27b0" stroke-width="0.7" stroke-linejoin="round"/><circle cx="1192.4" cy="532.4" r="2.7" fill="#f23645"/><svg x="10" y="553" width="1285" height="180" viewBox="10 553 1285 180" overflow="hidden"><defs><linearGradient id="gup" gradientUnits="userSpaceOnUse" x1="0" y1="562" x2="0" y2="597"><stop offset="0" stop-color="#4caf50" stop-opacity="0.22"/><stop offset="1" stop-color="#4caf50" stop-opacity="0"/></linearGradient><linearGradient id="gdn" gradientUnits="userSpaceOnUse" x1="0" y1="706" x2="0" y2="724"><stop offset="0" stop-color="#f23645" stop-opacity="0"/><stop offset="1" stop-color="#f23645" stop-opacity="0.22"/></linearGradient><clipPath id="cup"><rect x="0" y="553" width="1371" height="44.3"/></clipPath><clipPath id="cdn"><rect x="0" y="706.3" width="1371" height="40"/></clipPath></defs><polygon points="10.7,597.3 10.7,638.3 13.1,627.6 16.7,649.0 21.5,650.2 28.6,670.5 33.4,656.2 38.2,656.2 41.8,661.0 45.3,655.0 52.5,670.5 57.3,669.3 60.9,689.6 64.4,693.2 72.8,723.0 76.8,705.1 81.1,712.3 84.7,680.0 91.9,683.6 96.7,692.0 100.2,677.7 105.0,677.7 113.4,684.8 119.3,684.1 124.1,685.6 128.9,681.3 133.7,680.1 137.2,647.9 140.8,641.9 149.2,621.6 157.5,639.5 161.1,657.4 164.7,657.4 169.5,663.4 173.0,657.9 177.8,661.0 181.4,678.9 185.0,664.6 188.5,675.3 192.1,675.3 200.5,692.7 205.3,675.3 211.2,661.7 216.0,657.9 220.8,663.4 225.5,650.2 229.6,631.1 233.9,637.1 238.7,652.6 242.2,660.3 247.0,656.2 256.6,633.5 262.5,630.0 266.1,644.3 269.7,635.9 274.0,615.6 278.0,618.0 282.8,607.3 286.4,603.7 290.0,598.9 301.9,665.8 306.7,674.1 310.3,674.1 314.7,660.0 319.3,654.2 325.2,657.7 333.3,676.4 338.0,675.2 342.7,661.2 346.2,657.7 350.1,666.6 354.4,646.5 357.9,641.4 366.0,656.5 370.2,640.2 373.5,642.5 378.2,625.0 381.9,636.2 385.9,628.5 389.8,651.9 393.6,643.2 397.5,657.7 402.2,662.4 405.7,662.4 410.4,654.9 417.8,619.9 421.6,650.7 425.5,655.4 429.5,657.2 437.9,681.0 442.6,662.4 445.9,630.9 450.1,622.7 453.6,605.2 457.5,603.6 465.7,589.5 469.9,616.2 477.6,637.9 485.5,615.2 489.7,630.9 493.9,611.5 501.9,631.6 506.1,622.7 509.6,605.2 517.8,592.3 522.4,604.0 525.9,604.0 530.6,591.9 535.3,606.4 542.3,596.5 546.9,598.2 550.9,562.0 555.1,578.3 558.6,579.5 562.6,592.3 566.8,580.2 571.0,594.7 574.9,588.1 578.9,630.2 582.6,631.6 587.3,617.6 591.3,594.7 603.0,594.7 611.1,611.0 614.6,636.7 619.3,654.9 622.8,650.7 627.0,660.5 631.2,661.2 635.2,640.2 639.1,634.8 643.3,644.2 647.5,657.7 651.5,665.9 655.0,661.9 659.2,669.4 663.2,672.2 667.9,676.4 671.4,659.6 674.9,656.5 679.5,643.2 683.0,642.5 687.7,642.5 691.2,640.2 694.7,664.2 702.9,679.9 707.5,672.2 711.5,672.9 719.2,681.0 723.9,664.7 727.4,647.2 730.9,636.7 734.8,619.2 739.0,630.9 743.2,628.5 747.2,621.5 750.7,610.6 754.9,627.8 758.9,624.6 763.6,630.9 768.2,634.4 771.7,634.4 774.5,643.2 778.7,662.4 782.2,650.7 790.9,633.9 794.6,653.0 799.3,680.6 803.2,667.5 807.9,681.0 816.1,690.4 820.7,691.6 825.4,690.9 827.7,692.7 831.3,683.4 835.2,684.6 839.4,676.4 844.1,683.4 848.3,670.5 855.8,678.2 860.0,671.2 863.9,685.7 867.4,683.9 871.6,678.2 876.3,688.0 879.6,681.5 883.8,683.4 888.0,707.2 894.3,706.3 900.1,709.1 907.6,711.9 911.8,657.7 916.0,689.9 920.0,682.9 923.9,662.8 928.1,654.9 932.8,667.0 935.8,674.0 944.0,695.0 952.2,683.9 955.7,687.6 963.8,673.6 967.8,679.9 972.0,669.4 975.5,670.5 979.5,654.2 984.2,664.7 987.9,667.5 995.4,660.0 999.6,649.5 1004.2,644.2 1008.2,647.2 1012.2,643.2 1016.4,663.5 1020.6,674.0 1024.5,675.9 1028.0,673.6 1031.5,662.8 1036.2,679.9 1040.9,679.9 1046.7,681.0 1051.4,700.9 1056.0,698.6 1060.3,703.9 1064.2,666.6 1067.7,674.0 1075.9,655.4 1080.6,662.8 1084.1,662.8 1088.3,669.4 1096.2,662.8 1099.9,662.4 1108.6,646.0 1112.1,650.7 1119.5,614.5 1123.7,614.5 1127.9,618.0 1131.9,619.9 1135.9,629.2 1140.1,619.2 1149.4,640.2 1153.6,630.2 1156.9,633.2 1164.6,654.9 1168.6,660.5 1173.2,655.4 1177.0,655.4 1180.9,609.9 1185.6,611.5 1185.6,597.3" fill="url(#gup)" clip-path="url(#cup)"/><rect x="540" y="560" width="40" height="37.3" fill="url(#gup)" clip-path="url(#cup)" opacity="0"/><polygon points="10.7,706.3 10.7,638.3 13.1,627.6 16.7,649.0 21.5,650.2 28.6,670.5 33.4,656.2 38.2,656.2 41.8,661.0 45.3,655.0 52.5,670.5 57.3,669.3 60.9,689.6 64.4,693.2 72.8,723.0 76.8,705.1 81.1,712.3 84.7,680.0 91.9,683.6 96.7,692.0 100.2,677.7 105.0,677.7 113.4,684.8 119.3,684.1 124.1,685.6 128.9,681.3 133.7,680.1 137.2,647.9 140.8,641.9 149.2,621.6 157.5,639.5 161.1,657.4 164.7,657.4 169.5,663.4 173.0,657.9 177.8,661.0 181.4,678.9 185.0,664.6 188.5,675.3 192.1,675.3 200.5,692.7 205.3,675.3 211.2,661.7 216.0,657.9 220.8,663.4 225.5,650.2 229.6,631.1 233.9,637.1 238.7,652.6 242.2,660.3 247.0,656.2 256.6,633.5 262.5,630.0 266.1,644.3 269.7,635.9 274.0,615.6 278.0,618.0 282.8,607.3 286.4,603.7 290.0,598.9 301.9,665.8 306.7,674.1 310.3,674.1 314.7,660.0 319.3,654.2 325.2,657.7 333.3,676.4 338.0,675.2 342.7,661.2 346.2,657.7 350.1,666.6 354.4,646.5 357.9,641.4 366.0,656.5 370.2,640.2 373.5,642.5 378.2,625.0 381.9,636.2 385.9,628.5 389.8,651.9 393.6,643.2 397.5,657.7 402.2,662.4 405.7,662.4 410.4,654.9 417.8,619.9 421.6,650.7 425.5,655.4 429.5,657.2 437.9,681.0 442.6,662.4 445.9,630.9 450.1,622.7 453.6,605.2 457.5,603.6 465.7,589.5 469.9,616.2 477.6,637.9 485.5,615.2 489.7,630.9 493.9,611.5 501.9,631.6 506.1,622.7 509.6,605.2 517.8,592.3 522.4,604.0 525.9,604.0 530.6,591.9 535.3,606.4 542.3,596.5 546.9,598.2 550.9,562.0 555.1,578.3 558.6,579.5 562.6,592.3 566.8,580.2 571.0,594.7 574.9,588.1 578.9,630.2 582.6,631.6 587.3,617.6 591.3,594.7 603.0,594.7 611.1,611.0 614.6,636.7 619.3,654.9 622.8,650.7 627.0,660.5 631.2,661.2 635.2,640.2 639.1,634.8 643.3,644.2 647.5,657.7 651.5,665.9 655.0,661.9 659.2,669.4 663.2,672.2 667.9,676.4 671.4,659.6 674.9,656.5 679.5,643.2 683.0,642.5 687.7,642.5 691.2,640.2 694.7,664.2 702.9,679.9 707.5,672.2 711.5,672.9 719.2,681.0 723.9,664.7 727.4,647.2 730.9,636.7 734.8,619.2 739.0,630.9 743.2,628.5 747.2,621.5 750.7,610.6 754.9,627.8 758.9,624.6 763.6,630.9 768.2,634.4 771.7,634.4 774.5,643.2 778.7,662.4 782.2,650.7 790.9,633.9 794.6,653.0 799.3,680.6 803.2,667.5 807.9,681.0 816.1,690.4 820.7,691.6 825.4,690.9 827.7,692.7 831.3,683.4 835.2,684.6 839.4,676.4 844.1,683.4 848.3,670.5 855.8,678.2 860.0,671.2 863.9,685.7 867.4,683.9 871.6,678.2 876.3,688.0 879.6,681.5 883.8,683.4 888.0,707.2 894.3,706.3 900.1,709.1 907.6,711.9 911.8,657.7 916.0,689.9 920.0,682.9 923.9,662.8 928.1,654.9 932.8,667.0 935.8,674.0 944.0,695.0 952.2,683.9 955.7,687.6 963.8,673.6 967.8,679.9 972.0,669.4 975.5,670.5 979.5,654.2 984.2,664.7 987.9,667.5 995.4,660.0 999.6,649.5 1004.2,644.2 1008.2,647.2 1012.2,643.2 1016.4,663.5 1020.6,674.0 1024.5,675.9 1028.0,673.6 1031.5,662.8 1036.2,679.9 1040.9,679.9 1046.7,681.0 1051.4,700.9 1056.0,698.6 1060.3,703.9 1064.2,666.6 1067.7,674.0 1075.9,655.4 1080.6,662.8 1084.1,662.8 1088.3,669.4 1096.2,662.8 1099.9,662.4 1108.6,646.0 1112.1,650.7 1119.5,614.5 1123.7,614.5 1127.9,618.0 1131.9,619.9 1135.9,629.2 1140.1,619.2 1149.4,640.2 1153.6,630.2 1156.9,633.2 1164.6,654.9 1168.6,660.5 1173.2,655.4 1177.0,655.4 1180.9,609.9 1185.6,611.5 1185.6,706.3" fill="url(#gdn)" clip-path="url(#cdn)"/><polyline points="10.7,638.3 13.1,627.6 16.7,649.0 21.5,650.2 28.6,670.5 33.4,656.2 38.2,656.2 41.8,661.0 45.3,655.0 52.5,670.5 57.3,669.3 60.9,689.6 64.4,693.2 72.8,723.0 76.8,705.1 81.1,712.3 84.7,680.0 91.9,683.6 96.7,692.0 100.2,677.7 105.0,677.7 113.4,684.8 119.3,684.1 124.1,685.6 128.9,681.3 133.7,680.1 137.2,647.9 140.8,641.9 149.2,621.6 157.5,639.5 161.1,657.4 164.7,657.4 169.5,663.4 173.0,657.9 177.8,661.0 181.4,678.9 185.0,664.6 188.5,675.3 192.1,675.3 200.5,692.7 205.3,675.3 211.2,661.7 216.0,657.9 220.8,663.4 225.5,650.2 229.6,631.1 233.9,637.1 238.7,652.6 242.2,660.3 247.0,656.2 256.6,633.5 262.5,630.0 266.1,644.3 269.7,635.9 274.0,615.6 278.0,618.0 282.8,607.3 286.4,603.7 290.0,598.9 301.9,665.8 306.7,674.1 310.3,674.1 314.7,660.0 319.3,654.2 325.2,657.7 333.3,676.4 338.0,675.2 342.7,661.2 346.2,657.7 350.1,666.6 354.4,646.5 357.9,641.4 366.0,656.5 370.2,640.2 373.5,642.5 378.2,625.0 381.9,636.2 385.9,628.5 389.8,651.9 393.6,643.2 397.5,657.7 402.2,662.4 405.7,662.4 410.4,654.9 417.8,619.9 421.6,650.7 425.5,655.4 429.5,657.2 437.9,681.0 442.6,662.4 445.9,630.9 450.1,622.7 453.6,605.2 457.5,603.6 465.7,589.5 469.9,616.2 477.6,637.9 485.5,615.2 489.7,630.9 493.9,611.5 501.9,631.6 506.1,622.7 509.6,605.2 517.8,592.3 522.4,604.0 525.9,604.0 530.6,591.9 535.3,606.4 542.3,596.5 546.9,598.2 550.9,562.0 555.1,578.3 558.6,579.5 562.6,592.3 566.8,580.2 571.0,594.7 574.9,588.1 578.9,630.2 582.6,631.6 587.3,617.6 591.3,594.7 603.0,594.7 611.1,611.0 614.6,636.7 619.3,654.9 622.8,650.7 627.0,660.5 631.2,661.2 635.2,640.2 639.1,634.8 643.3,644.2 647.5,657.7 651.5,665.9 655.0,661.9 659.2,669.4 663.2,672.2 667.9,676.4 671.4,659.6 674.9,656.5 679.5,643.2 683.0,642.5 687.7,642.5 691.2,640.2 694.7,664.2 702.9,679.9 707.5,672.2 711.5,672.9 719.2,681.0 723.9,664.7 727.4,647.2 730.9,636.7 734.8,619.2 739.0,630.9 743.2,628.5 747.2,621.5 750.7,610.6 754.9,627.8 758.9,624.6 763.6,630.9 768.2,634.4 771.7,634.4 774.5,643.2 778.7,662.4 782.2,650.7 790.9,633.9 794.6,653.0 799.3,680.6 803.2,667.5 807.9,681.0 816.1,690.4 820.7,691.6 825.4,690.9 827.7,692.7 831.3,683.4 835.2,684.6 839.4,676.4 844.1,683.4 848.3,670.5 855.8,678.2 860.0,671.2 863.9,685.7 867.4,683.9 871.6,678.2 876.3,688.0 879.6,681.5 883.8,683.4 888.0,707.2 894.3,706.3 900.1,709.1 907.6,711.9 911.8,657.7 916.0,689.9 920.0,682.9 923.9,662.8 928.1,654.9 932.8,667.0 935.8,674.0 944.0,695.0 952.2,683.9 955.7,687.6 963.8,673.6 967.8,679.9 972.0,669.4 975.5,670.5 979.5,654.2 984.2,664.7 987.9,667.5 995.4,660.0 999.6,649.5 1004.2,644.2 1008.2,647.2 1012.2,643.2 1016.4,663.5 1020.6,674.0 1024.5,675.9 1028.0,673.6 1031.5,662.8 1036.2,679.9 1040.9,679.9 1046.7,681.0 1051.4,700.9 1056.0,698.6 1060.3,703.9 1064.2,666.6 1067.7,674.0 1075.9,655.4 1080.6,662.8 1084.1,662.8 1088.3,669.4 1096.2,662.8 1099.9,662.4 1108.6,646.0 1112.1,650.7 1119.5,614.5 1123.7,614.5 1127.9,618.0 1131.9,619.9 1135.9,629.2 1140.1,619.2 1149.4,640.2 1153.6,630.2 1156.9,633.2 1164.6,654.9 1168.6,660.5 1173.2,655.4 1177.0,655.4 1180.9,609.9 1185.6,611.5" fill="none" stroke="#7e57c2" stroke-width="2.6" stroke-linejoin="round" stroke-linecap="round"/><path d="M10.7,658.6 C12.1,657.7 14.9,654.7 19.1,653.1 C23.3,651.5 29.8,648.7 35.8,649.0 C41.8,649.3 49.7,652.0 54.9,655.0 C60.1,658.0 62.4,662.7 66.8,667.0 C71.2,671.3 75.5,677.2 81.1,680.8 C86.7,684.4 94.6,686.5 100.2,688.4 C105.8,690.3 109.8,692.2 114.6,692.0 C119.4,691.8 124.1,690.0 128.9,687.2 C133.7,684.4 138.8,679.5 143.2,675.3 C147.6,671.1 149.9,665.7 155.1,662.2 C160.3,658.7 168.6,656.2 174.2,654.5 C179.8,652.8 184.1,651.2 188.5,652.1 C192.9,653.0 196.1,657.1 200.5,659.8 C204.9,662.5 210.4,666.7 214.8,668.1 C219.2,669.5 222.7,669.1 226.7,668.1 C230.7,667.1 234.7,664.0 238.7,662.2 C242.7,660.4 246.6,659.8 250.6,657.4 C254.6,655.0 257.3,651.5 262.5,647.9 C267.7,644.3 275.6,639.2 281.6,635.9 C287.6,632.6 293.6,628.9 298.3,628.3 C303.0,627.6 306.9,630.8 310.0,632.0 C313.1,633.2 314.5,634.4 317.0,635.5 C319.5,636.6 321.7,635.7 325.2,638.6 C328.7,641.5 333.5,648.9 338.0,653.0 C342.5,657.1 346.9,662.8 352.0,663.5 C357.1,664.2 363.7,659.1 368.4,657.2 C373.1,655.3 375.7,653.7 380.0,651.9 C384.3,650.1 388.9,647.4 394.0,646.5 C399.1,645.6 405.9,647.0 410.4,646.5 C414.9,646.0 417.8,643.8 420.9,643.7 C424.0,643.6 425.5,644.2 429.0,646.0 C432.5,647.8 438.4,653.4 441.9,654.2 C445.4,655.0 446.0,654.1 450.1,650.7 C454.2,647.3 461.7,637.0 466.4,633.9 C471.1,630.8 474.2,633.5 478.1,632.0 C482.0,630.5 486.2,627.0 489.7,624.6 C493.2,622.2 496.0,618.8 499.1,617.6 C502.2,616.4 505.3,617.8 508.4,617.6 C511.5,617.4 515.5,616.2 517.8,616.2 C520.1,616.2 519.7,618.4 522.4,617.6 C525.1,616.8 530.4,613.2 534.1,611.5 C537.8,609.8 541.5,609.3 544.6,607.5 C547.7,605.7 549.9,602.8 552.8,600.5 C555.7,598.2 558.6,594.9 562.1,593.5 C565.6,592.1 569.9,591.4 573.8,591.9 C577.7,592.4 580.7,595.9 585.4,596.5 C590.1,597.1 597.1,594.5 601.8,595.8 C606.5,597.0 610.5,601.5 613.5,604.0 C616.5,606.5 617.2,607.3 620.0,610.6 C622.8,613.9 627.0,621.3 630.5,623.9 C634.0,626.5 636.9,623.1 641.0,626.2 C645.1,629.3 650.5,637.5 655.0,642.5 C659.5,647.5 664.4,654.0 667.9,656.5 C671.4,659.0 672.3,658.0 676.0,657.7 C679.7,657.4 685.7,654.4 690.0,654.9 C694.3,655.4 697.0,659.2 701.7,660.5 C706.4,661.8 712.5,663.3 718.0,662.8 C723.5,662.3 729.5,659.0 734.4,657.7 C739.3,656.4 742.9,657.4 747.2,654.9 C751.5,652.4 755.6,646.2 760.1,642.5 C764.6,638.8 769.4,634.0 774.1,632.5 C778.8,631.0 783.4,631.7 788.1,633.2 C792.8,634.8 797.4,637.7 802.1,641.8 C806.8,645.9 811.4,652.7 816.1,657.7 C820.8,662.7 825.8,668.5 830.1,671.7 C834.4,674.9 838.3,675.0 841.8,676.8 C845.3,678.5 847.2,681.2 851.1,682.2 C855.0,683.2 860.8,683.1 865.1,682.9 C869.4,682.7 873.3,681.3 876.8,681.0 C880.3,680.7 882.6,680.1 886.1,681.0 C889.6,681.9 894.1,684.2 897.8,686.2 C901.5,688.2 904.8,691.6 908.3,692.7 C911.8,693.8 915.1,693.4 918.8,692.7 C922.5,692.0 926.7,689.6 930.5,688.5 C934.3,687.4 937.9,687.2 941.7,686.2 C945.5,685.2 949.4,683.7 953.3,682.2 C957.2,680.8 960.7,678.5 965.0,677.5 C969.3,676.5 974.7,676.3 979.0,675.9 C983.3,675.5 987.2,676.3 990.7,675.2 C994.2,674.1 996.5,671.6 1000.0,669.4 C1003.5,667.2 1008.2,663.4 1011.7,661.9 C1015.2,660.4 1017.9,660.7 1021.0,660.5 C1024.1,660.3 1026.9,660.0 1030.4,660.5 C1033.9,661.0 1038.5,662.1 1042.0,663.5 C1045.5,664.9 1047.9,666.6 1051.4,668.9 C1054.9,671.2 1059.9,675.7 1063.0,677.5 C1066.1,679.3 1066.9,680.0 1070.0,679.9 C1073.1,679.8 1077.8,677.5 1081.7,676.8 C1085.6,676.1 1089.7,676.7 1093.4,675.9 C1097.1,675.1 1100.4,674.9 1103.9,672.2 C1107.4,669.6 1111.1,663.7 1114.4,660.0 C1117.7,656.3 1120.2,653.2 1123.7,650.2 C1127.2,647.2 1131.5,644.5 1135.4,641.8 C1139.3,639.1 1143.2,635.8 1147.1,633.9 C1151.0,632.0 1154.9,630.5 1158.8,630.2 C1162.7,629.9 1167.1,631.0 1170.4,632.0 C1173.7,633.0 1176.3,635.6 1178.6,636.2 C1180.9,636.8 1183.4,635.6 1184.4,635.5" fill="none" stroke="#fdd835" stroke-width="1.2" stroke-linecap="round"/></svg><g fill="#e0e3eb"><rect x="1295" y="27" width="1" height="734" fill="#dedfe3"/><rect x="10" y="552" width="1351" height="1"/><rect x="10" y="733" width="1351" height="1"/></g><rect x="9.5" y="26.5" width="1352" height="735" fill="none" stroke="#eeeeee" stroke-width="1.2"/><text x="10.5" y="18.9" font-size="12" fill="#131722" textLength="361.6" lengthAdjust="spacingAndGlyphs">ranadagger published on TradingView.com, May 09, 2025 16:11 UTC</text><g font-size="12" fill="#131722"><text x="18" y="45.9" textLength="195.9" lengthAdjust="spacingAndGlyphs">ChainLink / TetherUS · 1D · BINANCE</text><text x="221.6" y="45.9" fill="#131722">O</text><text x="230.3" y="45.9" fill="#ef5350" textLength="28.9" lengthAdjust="spacingAndGlyphs">15.89</text><text x="267.1" y="45.9" fill="#131722">H</text><text x="275.9" y="45.9" fill="#ef5350" textLength="28.1" lengthAdjust="spacingAndGlyphs">16.73</text><text x="311.3" y="45.9" fill="#131722">L</text><text x="318.3" y="45.9" fill="#ef5350" textLength="28.9" lengthAdjust="spacingAndGlyphs">15.58</text><text x="354.6" y="45.9" fill="#131722">C</text><text x="362" y="45.9" fill="#ef5350" textLength="28.9" lengthAdjust="spacingAndGlyphs">15.83</text><text x="398.8" y="45.9" fill="#ef5350" textLength="28.2" lengthAdjust="spacingAndGlyphs">−0.05</text><text x="432.7" y="45.9" fill="#ef5350" textLength="46.0" lengthAdjust="spacingAndGlyphs">(−0.31%)</text><text x="18" y="62.7" textLength="81.8" lengthAdjust="spacingAndGlyphs">EMA (20, close)</text><text x="108.2" y="62.7" fill="#2962ff" textLength="29.2" lengthAdjust="spacingAndGlyphs">14.34</text><text x="18" y="79.7" textLength="81.4" lengthAdjust="spacingAndGlyphs">SMA (50, close)</text><text x="107.7" y="79.7" fill="#f23645" textLength="28.5" lengthAdjust="spacingAndGlyphs">13.72</text><text x="17.9" y="572" textLength="76.4" lengthAdjust="spacingAndGlyphs">RSI (14, close)</text><text x="102" y="572" fill="#7e57c2" textLength="28.8" lengthAdjust="spacingAndGlyphs">64.62</text><text x="138.4" y="572" fill="#fdd835" textLength="29.4" lengthAdjust="spacingAndGlyphs">55.89</text><text x="175.4" y="572" font-size="11">∅</text><text x="191" y="572" font-size="11">∅</text><text x="205.7" y="572" font-size="11">∅</text><text x="221.5" y="572" font-size="11">∅</text></g><g font-size="12" fill="#131722"><text x="1304" y="531.0">8.00</text><text x="1304" y="489.8">10.00</text><text x="1304" y="448.5">12.00</text><text x="1304" y="324.6">18.00</text><text x="1304" y="283.4">20.00</text><text x="1304" y="242.1">22.00</text><text x="1304" y="200.8">24.00</text><text x="1304" y="159.5">26.00</text><text x="1304" y="118.2">28.00</text><text x="1304" y="77.0">30.00</text><text x="1304" y="575.0">80.00</text><text x="1304" y="629.5">60.00</text><text x="1304" y="684.0">40.00</text></g><rect x="1299.5" y="31" width="57" height="25.5" rx="4" fill="#ffffff" stroke="#e0e3eb" stroke-width="1"/><text x="1308.4" y="48" font-size="12" fill="#131722" textLength="27" lengthAdjust="spacingAndGlyphs">USDT</text><g font-size="12" fill="#131722" text-anchor="middle"><text x="57.5" y="751">Aug</text><text x="181.5" y="751">Sep</text><text x="302.5" y="751">Oct</text><text x="426.5" y="751">Nov</text><text x="547.5" y="751">Dec</text><text x="671.5" y="751" font-weight="bold">2025</text><text x="795.5" y="751">Feb</text><text x="908.5" y="751">Mar</text><text x="1032.5" y="751">Apr</text><text x="1153.5" y="751">May</text><text x="1277.5" y="751">Jun</text></g><rect x="1235" y="357" width="61" height="17" rx="2" fill="#ef5350"/><text x="1239.6" y="369.7" font-size="12" fill="#fff" textLength="49.7" lengthAdjust="spacingAndGlyphs">LINKUSDT</text><rect x="1295" y="357" width="61" height="45" rx="2" fill="#ef5350"/><text x="1305.2" y="369.6" font-size="12" fill="#fff" textLength="27.9" lengthAdjust="spacingAndGlyphs">15.83</text><text x="1305.2" y="383.8" font-size="12" fill="#fff" textLength="41.2" lengthAdjust="spacingAndGlyphs">+12.46%</text><text x="1305.2" y="397.2" font-size="12" fill="#fff" textLength="44.8" lengthAdjust="spacingAndGlyphs" fill-opacity="0.85">07:48:16</text><rect x="1264" y="402" width="75" height="17" rx="2" fill="#2962ff"/><text x="1269" y="414.8" font-size="12" fill="#fff" textLength="22" lengthAdjust="spacingAndGlyphs">EMA</text><text x="1305.5" y="414.8" font-size="12" fill="#fff" textLength="28" lengthAdjust="spacingAndGlyphs">14.34</text><rect x="1245" y="419" width="94" height="17" rx="2" fill="#f23645"/><text x="1249.8" y="431.8" font-size="12" fill="#fff" textLength="41.2" lengthAdjust="spacingAndGlyphs">SMA:MA</text><text x="1305.2" y="431.8" font-size="12" fill="#fff" textLength="27.8" lengthAdjust="spacingAndGlyphs">13.72</text><rect x="1270" y="604.5" width="69" height="16.5" rx="2" fill="#7e57c2"/><text x="1275.2" y="617.1" font-size="12" fill="#fff" textLength="15.6" lengthAdjust="spacingAndGlyphs">RSI</text><text x="1303.9" y="617.1" font-size="12" fill="#fff" textLength="29.4" lengthAdjust="spacingAndGlyphs">64.62</text><rect x="1216" y="628" width="123" height="17" rx="2" fill="#fdd835"/><text x="1221" y="640.8" font-size="12" fill="#131722" textLength="70.2" lengthAdjust="spacingAndGlyphs">RSI-based MA</text><text x="1304.2" y="640.8" font-size="12" fill="#131722" textLength="29.1" lengthAdjust="spacingAndGlyphs">55.89</text><rect x="1295" y="357" width="1" height="79" fill="#e0e3eb" fill-opacity="0.6"/><rect x="1295" y="604" width="1" height="41" fill="#e0e3eb" fill-opacity="0.6"/><g fill="#131722"><path d="M9.6,773 H18.8 V783 H13.6 V777.2 H9.6 Z"/><circle cx="21.2" cy="775.3" r="2"/><path d="M24.1,773 H29.8 L26.3,783 H21 Z"/></g><text x="33.3" y="782.9" font-size="13" fill="#131722" textLength="70" lengthAdjust="spacingAndGlyphs">TradingView</text></svg></body></html>
